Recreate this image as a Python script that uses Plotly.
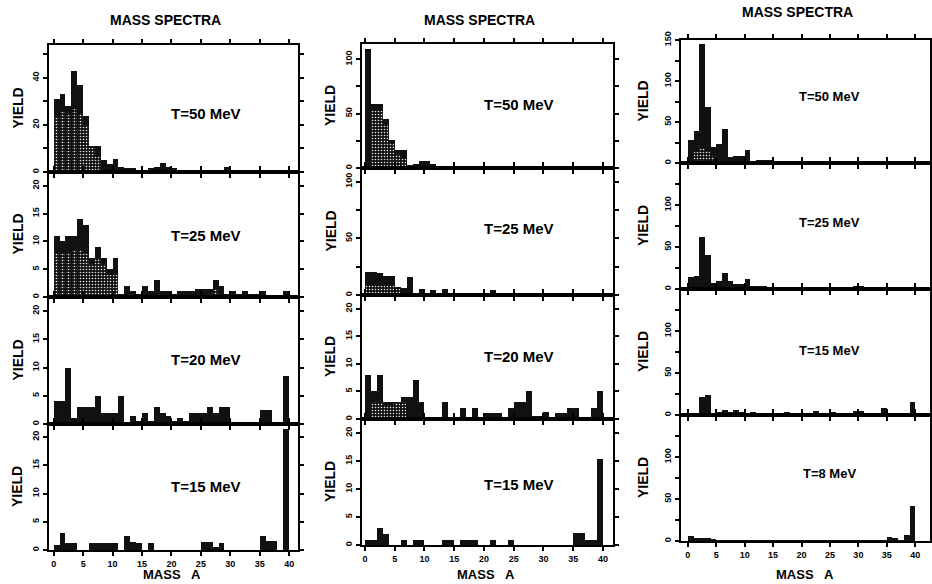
import plotly.graph_objects as go

# ---------------- data ----------------
mass = list(range(1, 41))
x_ticks = [0, 5, 10, 15, 20, 25, 30, 35, 40]

# column 1
c1_t50 = [31, 33, 28, 43, 37, 24, 11, 11, 5, 3.5, 5.5, 2, 1.5, 1.5, 1, 1, 1.5, 2, 4, 2,
          1.5, 1, 0.5, 0.5, 0.5, 0.5, 0.5, 0.5, 1, 2, 1, 0.5, 0.5, 0.5, 0, 0.5, 0, 0, 0, 0]
c1_t50_st = [23, 26, 25, 27, 25, 20, 10, 7, 0, 0, 0, 0, 0, 0, 0, 0, 0, 0, 0, 0,
             0, 0, 0, 0, 0, 0, 0, 0, 0, 0, 0, 0, 0, 0, 0, 0, 0, 0, 0, 0]
c1_t25 = [11, 10, 11, 11, 14, 13, 7, 9, 7, 5, 7, 0.5, 2, 1, 0.5, 2, 1, 3, 1, 1,
          0.5, 1, 1, 1, 1.5, 1.5, 1.5, 3, 2, 0.5, 1, 0.5, 1, 0.5, 0.5, 1, 0, 0, 0, 1]
c1_t25_st = [8, 8, 8, 8.5, 8.5, 8, 6, 7, 6, 4, 4, 0, 0, 0, 0, 0, 0, 0, 0, 0,
             0, 0, 0, 0, 0, 0, 0, 1.5, 0, 0, 0, 0, 0, 0, 0, 0, 0, 0, 0, 0]
c1_t20 = [4, 4, 10, 1, 3, 3, 3, 5, 2, 2, 2, 5, 0, 1.5, 0.5, 2, 0.5, 3, 2, 1.5,
          0.5, 1, 0.5, 2, 2, 2, 3, 2, 3, 3, 0, 0, 0, 0, 0, 2.5, 2.5, 0, 0, 8.5]
c1_t15 = [0.9, 3, 1.2, 1.2, 0, 0, 1.2, 1.2, 1.2, 1.2, 1.2, 0, 2.4, 1.5, 1.2, 0, 1.3, 0, 0, 0,
          0, 0, 0, 0, 0, 1.4, 1.4, 0.5, 1.3, 0, 0, 0, 0, 0, 0, 2.5, 1.6, 1.6, 0, 21.5]

# column 2
c2_t50 = [109, 59, 59, 45, 26, 17, 17, 3, 4, 6, 6, 4, 2, 2, 1.5, 1.5, 1, 1, 1, 1,
          1, 0.5, 0.5, 0, 0, 0, 0, 0, 0, 0, 0, 0, 0, 0, 0, 0, 0, 0, 0, 0]
c2_t50_st = [0, 52, 52, 40, 23, 13, 8, 0, 0, 0, 0, 0, 0, 0, 0, 0, 0, 0, 0, 0,
             0, 0, 0, 0, 0, 0, 0, 0, 0, 0, 0, 0, 0, 0, 0, 0, 0, 0, 0, 0]
c2_t25 = [20, 20, 19, 17, 17, 7, 6, 16, 2, 5, 2, 4, 2, 5, 1, 1, 1, 1, 1, 1,
          1, 4, 1, 1, 0.5, 0.5, 0.5, 0.5, 0.5, 0.5, 0.5, 0.5, 0.5, 0.5, 0.5, 0.5, 0.5, 0.5, 0.5, 0.5]
c2_t25_st = [9, 9, 9, 9, 9, 5, 0, 0, 0, 0, 0, 0, 0, 0, 0, 0, 0, 0, 0, 0,
             0, 0, 0, 0, 0, 0, 0, 0, 0, 0, 0, 0, 0, 0, 0, 0, 0, 0, 0, 0]
c2_t20 = [8, 5, 8, 3, 3, 3, 4, 4, 7, 3, 0, 0, 0, 3, 0, 0, 2, 0, 2, 0,
          1, 1, 1, 0, 2, 3, 3, 5, 0.5, 0.5, 1.2, 0, 1, 1, 2, 2, 0, 0, 2, 5]
c2_t20_st = [0, 3, 3, 2.5, 2.5, 3, 3, 0, 0, 0, 0, 0, 0, 0, 0, 0, 0, 0, 0, 0,
             0, 0, 0, 0, 0, 0, 0, 0, 0, 0, 0, 0, 0, 0, 0, 0, 0, 0, 0, 0]
c2_t15 = [0.9, 0.9, 3, 2, 0, 0, 0.9, 0, 0.9, 0.9, 0, 0, 0, 0.9, 0.9, 0, 0.9, 0.9, 0.9, 0,
          0, 0.9, 0, 0, 0.9, 0, 0, 0, 0, 0, 0, 0, 0, 0, 0, 2.1, 2.1, 0.9, 0.9, 15.3]

# column 3
c3_t50 = [28, 39, 145, 68, 20, 23, 42, 7, 8, 8, 16, 2, 4, 4, 4, 2, 1, 1, 1, 1,
          1, 1, 1, 0.5, 0.5, 0.5, 0.5, 0.5, 0.5, 0.5, 0.5, 0.5, 0.5, 0.5, 0.5, 0.5, 0.5, 0.5, 0.5, 0.5]
c3_t50_st = [0, 14, 18, 15, 8, 0, 0, 0, 0, 0, 0, 0, 0, 0, 0, 0, 0, 0, 0, 0,
             0, 0, 0, 0, 0, 0, 0, 0, 0, 0, 0, 0, 0, 0, 0, 0, 0, 0, 0, 0]
c3_t25 = [14, 16, 62, 40, 7, 9, 19, 9, 6, 6, 12, 4, 3, 3, 2, 2, 2, 1, 1, 1,
          1, 1, 1, 1, 1, 1, 1, 1, 1, 3, 4, 1, 1, 1, 1, 1, 1, 1, 1, 1]
c3_t15 = [1, 1, 22, 24, 2, 4, 6, 3, 6, 4, 1, 3, 2, 1, 2, 1, 1, 4, 1, 1,
          1, 2, 5, 2, 2, 3, 2, 2, 2, 5, 5, 1, 1, 2, 8, 1, 1, 1, 1, 16]
c3_t8 = [5.5, 3, 4, 3.5, 1.6, 0.5, 0.5, 0.5, 0.5, 0.5, 0.5, 0.5, 0.5, 0.5, 0.5, 0.5, 0.5, 0.5, 0.5, 0.5,
         0.5, 0.5, 0.5, 0.5, 0.5, 0.5, 0.5, 0.5, 0.5, 0.5, 0.5, 0.5, 0.5, 0.5, 0.5, 5, 4, 1, 7.5, 42]

labels_c1 = ["T=50 MeV", "T=25 MeV", "T=20 MeV", "T=15 MeV"]
labels_c2 = ["T=50 MeV", "T=25 MeV", "T=20 MeV", "T=15 MeV"]
labels_c3 = ["T=50 MeV", "T=25 MeV", "T=15 MeV", "T=8 MeV"]

# ---------------- layout ----------------
W, H = 932, 584
FONT = "Liberation Sans, Arial, sans-serif"

def ticks(step, top, labelled):
    vals = []
    v = 0
    while v <= top + 1e-9:
        vals.append(v)
        v += step
    txt = [("%g" % t) if t in labelled else "" for t in vals]
    return vals, txt

columns = [
    dict(x0=49, x1=298, xr=[-0.8, 41.5], ytitle_x=17, title_y=20, text_x=206, xt_x=172,
         panels=[
             dict(y0=45, y1=172, yr=[0, 54], tk=ticks(10, 50, [0, 20, 40]), data=c1_t50, st=c1_t50_st, lab=labels_c1[0], ty=113),
             dict(y0=172, y1=297, yr=[0, 22.5], tk=ticks(5, 20, [0, 5, 10, 15, 20]), data=c1_t25, st=c1_t25_st, lab=labels_c1[1], ty=235),
             dict(y0=297, y1=424, yr=[0, 22.5], tk=ticks(5, 20, [0, 5, 10, 15, 20]), data=c1_t20, st=None, lab=labels_c1[2], ty=359),
             dict(y0=424, y1=550, yr=[0, 22.3], tk=ticks(5, 20, [0, 5, 10, 15, 20]), data=c1_t15, st=None, lab=labels_c1[3], ty=486),
         ]),
    dict(x0=362, x1=613, xr=[-0.5, 41.7], ytitle_x=330, title_y=20, text_x=519, xt_x=486,
         panels=[
             dict(y0=44, y1=168, yr=[0, 114], tk=ticks(25, 100, [0, 50, 100]), data=c2_t50, st=c2_t50_st, lab=labels_c2[0], ty=104),
             dict(y0=168, y1=295, yr=[0, 112], tk=ticks(25, 100, [0, 50, 100]), data=c2_t25, st=c2_t25_st, lab=labels_c2[1], ty=228),
             dict(y0=295, y1=419, yr=[0, 22.5], tk=ticks(5, 20, [0, 5, 10, 15, 20]), data=c2_t20, st=c2_t20_st, lab=labels_c2[2], ty=357),
             dict(y0=419, y1=545, yr=[0, 22.5], tk=ticks(5, 20, [0, 5, 10, 15, 20]), data=c2_t15, st=None, lab=labels_c2[3], ty=484),
         ]),
    dict(x0=681, x1=930, xr=[-1.2, 42.6], ytitle_x=643, title_y=12, text_x=829, xt_x=805,
         panels=[
             dict(y0=40, y1=163, yr=[0, 150], tk=ticks(25, 150, [0, 50, 100, 150]), data=c3_t50, st=c3_t50_st, lab=labels_c3[0], ty=97),
             dict(y0=163, y1=289, yr=[0, 150], tk=ticks(25, 150, [0, 50, 100]), data=c3_t25, st=None, lab=labels_c3[1], ty=222),
             dict(y0=289, y1=415, yr=[0, 150], tk=ticks(25, 150, [0, 50, 100]), data=c3_t15, st=None, lab=labels_c3[2], ty=350),
             dict(y0=415, y1=541, yr=[0, 150], tk=ticks(25, 150, [0, 50, 100]), data=c3_t8, st=None, lab=labels_c3[3], ty=473),
         ]),
]

fig = go.Figure()
layout = dict(
    width=W, height=H, margin=dict(l=0, r=0, t=0, b=0, autoexpand=False),
    paper_bgcolor="white", plot_bgcolor="white",
    showlegend=False, barmode="overlay", bargap=0,
    font=dict(family=FONT, color="black"),
)
annotations = []
xc = [a - 0.5 for a in mass]

idx = 0
for col in columns:
    for p_i, p in enumerate(col["panels"]):
        idx += 1
        xa = "x" if idx == 1 else "x%d" % idx
        ya = "y" if idx == 1 else "y%d" % idx
        fig.add_trace(go.Bar(x=xc, y=p["data"], width=1, xaxis=xa, yaxis=ya,
                             marker=dict(color="#111111", line=dict(width=0)),
                             hoverinfo="x+y"))
        if p["st"] is not None:
            fig.add_trace(go.Bar(x=xc, y=p["st"], width=0.9, xaxis=xa, yaxis=ya,
                                 marker=dict(color="#111111", line=dict(width=0),
                                             pattern=dict(shape=".", fgcolor="#e8e8e8", bgcolor="#111111",
                                                          size=3, solidity=0.22, fillmode="replace")),
                                 hoverinfo="skip"))
        bottom = (p_i == 3)
        xkey = "xaxis" if idx == 1 else "xaxis%d" % idx
        ykey = "yaxis" if idx == 1 else "yaxis%d" % idx
        layout[xkey] = dict(
            domain=[col["x0"] / W, col["x1"] / W], anchor=ya,
            range=col["xr"], tickvals=x_ticks, showticklabels=bottom,
            ticks="outside", ticklen=4, tickwidth=2, tickcolor="black",
            showline=True, linecolor="black", linewidth=2, mirror="ticks",
            showgrid=False, zeroline=False,
            tickfont=dict(size=9, family=FONT, weight="bold"),
        )
        vals, txt = p["tk"]
        layout[ykey] = dict(
            domain=[1 - p["y1"] / H, 1 - p["y0"] / H], anchor=xa,
            range=p["yr"], tickvals=vals, ticktext=txt, tickangle=-90,
            ticks="outside", ticklen=4, tickwidth=2, tickcolor="black",
            showline=True, linecolor="black", linewidth=2, mirror="ticks",
            showgrid=False, zeroline=False,
            tickfont=dict(size=9, family=FONT, weight="bold"),
        )
        annotations.append(dict(
            x=col["text_x"] / W, y=1 - p["ty"] / H, xref="paper", yref="paper",
            text="<b>%s</b>" % p["lab"], showarrow=False,
            font=dict(size=15 if idx <= 8 else 13, family=FONT, color="black"),
            xanchor="center", yanchor="middle"))
        annotations.append(dict(
            x=col["ytitle_x"] / W, y=1 - (p["y0"] + p["y1"]) / 2 / H, xref="paper", yref="paper",
            text="<b>YIELD</b>", textangle=-90, showarrow=False,
            font=dict(size=14, family=FONT, color="black"),
            xanchor="center", yanchor="middle"))
    cx = (col["x0"] + col["x1"]) / 2
    annotations.append(dict(
        x=(cx - 8) / W, y=1 - col["title_y"] / H, xref="paper", yref="paper",
        text="<b>MASS SPECTRA</b>", showarrow=False,
        font=dict(size=14, family=FONT, color="black"),
        xanchor="center", yanchor="middle"))
    annotations.append(dict(
        x=col["xt_x"] / W, y=1 - 584 / H, xref="paper", yref="paper",
        text="<b>MASS   A</b>", showarrow=False,
        font=dict(size=13, family=FONT, color="black"),
        xanchor="center", yanchor="bottom", yshift=0))

layout["annotations"] = annotations
fig.update_layout(**layout)
fig.write_html("out.html", config={"displayModeBar": False},
               post_script="document.body.style.margin='0px';document.body.style.overflow='hidden';")
